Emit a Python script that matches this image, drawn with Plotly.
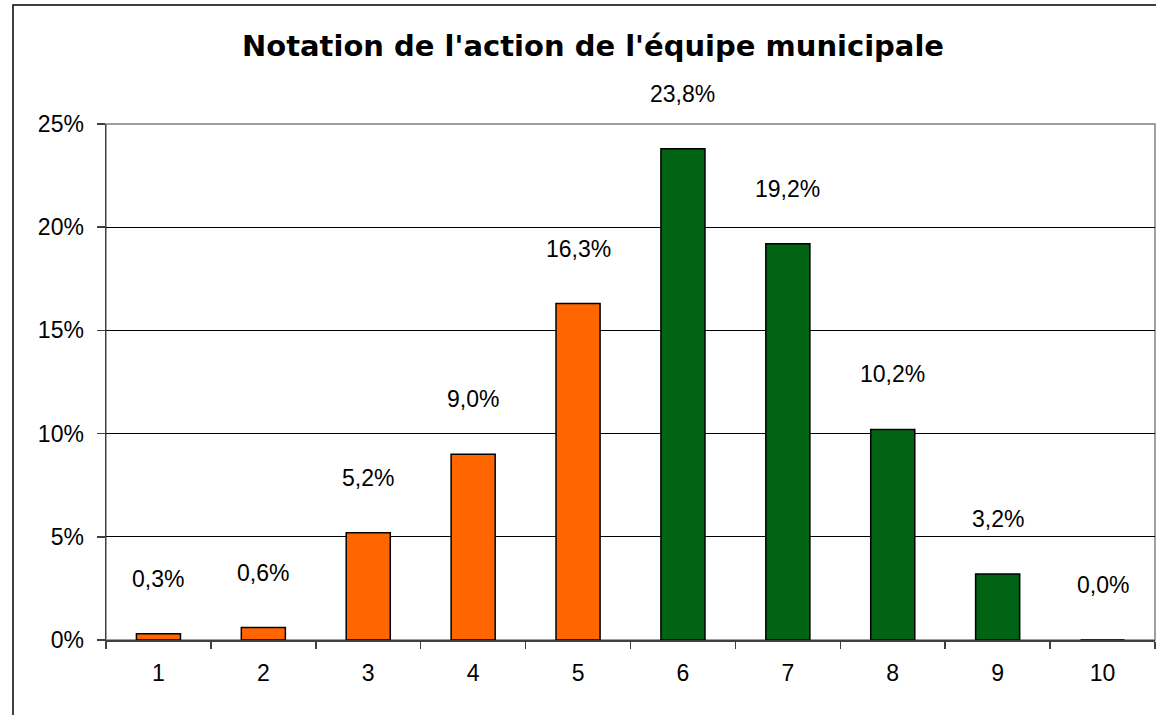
import plotly.graph_objects as go

categories = ["1", "2", "3", "4", "5", "6", "7", "8", "9", "10"]
values = [0.003, 0.006, 0.052, 0.090, 0.163, 0.238, 0.192, 0.102, 0.032, 0.000]
bar_colors = ["#FF6600"] * 5 + ["#006414"] * 5
title_text = "Notation de l'action de l'équipe municipale"

W, H = 1156, 715
L, R, T, B = 106, 1, 124, 75
FONT = "Liberation Sans, Arial"
FS = 23

fig = go.Figure()
fig.add_trace(go.Bar(
    x=categories, y=values, width=0.42,
    marker=dict(color=bar_colors, line=dict(color="black", width=1.5)),
    hoverinfo="skip", showlegend=False,
))

def fr_pct(v):
    return f"{v*100:.1f}".replace(".", ",") + "%"

for i, v in enumerate(values):
    fig.add_annotation(
        x=i, y=v, text=fr_pct(v), showarrow=False,
        xref="x", yref="y",
        yanchor="middle", yshift=55,
        font=dict(family=FONT, size=FS, color="black"),
    )

plot_w = W - L - R
plot_h = H - T - B
# outer chart frame (extends past the visible window, as in the reference)
fig.add_shape(type="rect", xref="paper", yref="paper",
              x0=(13 - L) / plot_w, x1=1.2,
              y0=-0.5, y1=(H - B - 5) / plot_h,
              line=dict(color="black", width=1.5), layer="below")
# plot area border
fig.add_shape(type="rect", xref="paper", yref="paper", x0=0, x1=1, y0=0, y1=1,
              line=dict(color="#808080", width=1.5), layer="below")

fig.update_layout(
    width=W, height=H,
    margin=dict(l=L, r=R, t=T, b=B, pad=0),
    paper_bgcolor="white", plot_bgcolor="white",
    title=dict(text=title_text, x=593 / W, xanchor="center", xref="container",
               y=1 - 46 / H, yanchor="middle", yref="container",
               font=dict(family="DejaVu Sans", size=29, color="black", weight="bold")),
    font=dict(family=FONT, size=FS, color="black"),
)
fig.update_xaxes(
    type="category", range=[-0.5, 9.5],
    tickson="boundaries", ticks="outside", ticklen=7, tickcolor="#404040", tickwidth=1.5,
    showline=True, linecolor="#404040", linewidth=1.5,
    showgrid=False, ticklabelstandoff=12,
    tickfont=dict(family=FONT, size=FS, color="black"),
)
fig.update_yaxes(
    range=[0, 0.25], dtick=0.05, tickformat=".0%",
    ticks="outside", ticklen=8, tickcolor="#404040", tickwidth=1.5,
    showline=True, linecolor="#404040", linewidth=1.5,
    showgrid=True, gridcolor="black", gridwidth=1,
    zeroline=False, ticklabelstandoff=8,
    tickfont=dict(family=FONT, size=FS, color="black"),
)

fig.write_html("out.html",
               config={"displayModeBar": False, "staticPlot": True},
               post_script="document.body.style.margin='0';document.body.style.overflow='hidden';")
